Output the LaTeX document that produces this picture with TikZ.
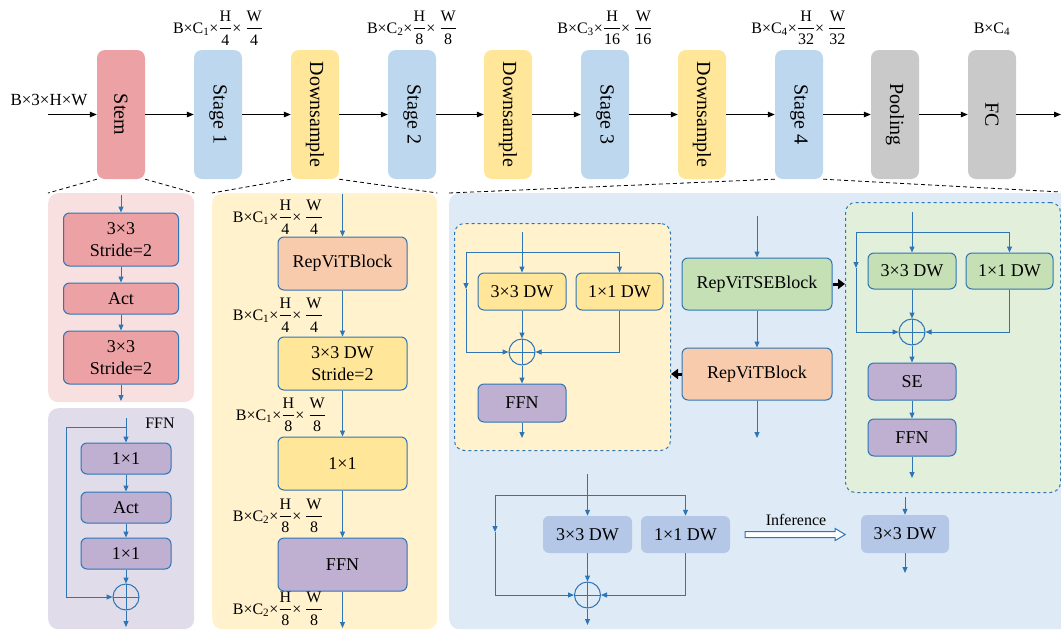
\documentclass[tikz,border=0pt]{standalone}
\usepackage{amsmath}
\usepackage{fontspec}
\setmainfont{Liberation Serif}
\usepackage{tikz}
\usetikzlibrary{positioning,arrows.meta}

\definecolor{lineblue}{RGB}{46,117,182}
\definecolor{stempink}{RGB}{236,161,165}
\definecolor{stageblue}{RGB}{189,215,238}
\definecolor{dsyellow}{RGB}{255,230,153}
\definecolor{headgray}{RGB}{201,201,201}
\definecolor{peach}{RGB}{248,203,173}
\definecolor{segreen}{RGB}{197,224,180}
\definecolor{lav}{RGB}{191,175,209}
\definecolor{dwblue}{RGB}{180,199,231}
\definecolor{stemlight}{RGB}{248,224,225}
\definecolor{ffnlight}{RGB}{225,220,234}
\definecolor{yellowlight}{RGB}{255,242,204}
\definecolor{bluelight}{RGB}{222,235,247}
\definecolor{greenlight}{RGB}{226,239,218}

\newcommand{\shapelbl}[3]{B×C\textsubscript{#1}×$\dfrac{\text{H}}{\text{#2}}$×\ $\dfrac{\text{W}}{\text{#3}}$}

\begin{document}
\begin{tikzpicture}[x=1pt, y=-1pt,
  font=\fontsize{18}{22}\selectfont,
  stagebox/.style={minimum width=48pt, minimum height=129pt, rounded corners=8pt,
    inner sep=0pt, font=\fontsize{20}{24}\selectfont},
  blk/.style={draw=lineblue, line width=1pt, rounded corners=6pt, align=center, inner sep=0pt},
  bare/.style={rounded corners=6pt, align=center, inner sep=0pt},
  panel/.style={anchor=north west, rounded corners=10pt, inner sep=0pt},
  subpanel/.style={panel, draw=lineblue, dashed, line width=1pt},
  sumc/.style={circle, draw=lineblue, line width=1pt, minimum size=26pt, inner sep=0pt,
    path picture={\draw[lineblue, line width=1pt]
      (path picture bounding box.north) -- (path picture bounding box.south)
      (path picture bounding box.west) -- (path picture bounding box.east);}},
  flow/.style={lineblue, line width=1pt, -{Triangle[length=6pt,width=5pt]}},
  trunk/.style={black, line width=1.2pt, -{Triangle[length=7pt,width=5.5pt]}},
  fat/.style={black, line width=3pt, -{Triangle[length=7pt,width=10pt]}},
  zoomln/.style={black, line width=0.8pt, dash pattern=on 4pt off 3pt},
  dimlbl/.style={font=\fontsize{16}{19}\selectfont, inner sep=0pt},
  dimtop/.style={font=\fontsize{16}{19}\selectfont, inner sep=0pt},
]
\useasboundingbox (0,0) rectangle (1061,630);

% backbone
\node[stagebox, fill=stempink] (stem) at (121,114.5) {\rotatebox{-90}{Stem}};
\node[stagebox, fill=stageblue] (st1) at (218,114.5) {\rotatebox{-90}{Stage 1}};
\node[stagebox, fill=dsyellow] (ds1) at (315,114.5) {\rotatebox{-90}{Downsample}};
\node[stagebox, fill=stageblue] (st2) at (412,114.5) {\rotatebox{-90}{Stage 2}};
\node[stagebox, fill=dsyellow] (ds2) at (508,114.5) {\rotatebox{-90}{Downsample}};
\node[stagebox, fill=stageblue] (st3) at (605,114.5) {\rotatebox{-90}{Stage 3}};
\node[stagebox, fill=dsyellow] (ds3) at (702,114.5) {\rotatebox{-90}{Downsample}};
\node[stagebox, fill=stageblue] (st4) at (799,114.5) {\rotatebox{-90}{Stage 4}};
\node[stagebox, fill=headgray] (pool) at (895,114.5) {\rotatebox{-90}{Pooling}};
\node[stagebox, fill=headgray] (fc) at (992,114.5) {\rotatebox{-90}{FC}};

\coordinate (in) at (48,114.5);
\coordinate (out) at (1061,114.5);
\node[font=\fontsize{17}{20}\selectfont] (inlbl) at (49,100) {B×3×H×W};
\draw[trunk] (in) -- (stem);
\draw[trunk] (stem) -- (st1);
\draw[trunk] (st1) -- (ds1);
\draw[trunk] (ds1) -- (st2);
\draw[trunk] (st2) -- (ds2);
\draw[trunk] (ds2) -- (st3);
\draw[trunk] (st3) -- (ds3);
\draw[trunk] (ds3) -- (st4);
\draw[trunk] (st4) -- (pool);
\draw[trunk] (pool) -- (fc);
\draw[trunk] (fc) -- (out);

\node[dimtop] (cA) at (218,28) {\shapelbl{1}{4}{4}};
\node[dimtop] (cB) at (412,28) {\shapelbl{2}{8}{8}};
\node[dimtop] (cC) at (605,28) {\shapelbl{3}{16}{16}};
\node[dimtop] (cD) at (799,28) {\shapelbl{4}{32}{32}};
\node[dimtop] (cE) at (992,29) {B×C\textsubscript{4}};

% panels
\node[panel, fill=stemlight, minimum width=146pt, minimum height=209pt] (stempanel) at (48,193) {};
\node[panel, fill=ffnlight, minimum width=146pt, minimum height=221pt] (ffnpanel) at (48,408) {};
\node[panel, fill=yellowlight, minimum width=225pt, minimum height=436pt] (dspanel) at (212,193) {};
\node[panel, fill=bluelight, minimum width=620pt, minimum height=436pt] (stpanel) at (449,193) {};
\coordinate (rim) at (1061,192);

\draw[zoomln] (stem.south west) -- (stempanel.north west);
\draw[zoomln] (stem.south east) -- (stempanel.north east);
\draw[zoomln] (ds1.south west) -- (dspanel.north west);
\draw[zoomln] (ds1.south east) -- (dspanel.north east);
\draw[zoomln] (st4.south west) -- (stpanel.north west);
\draw[zoomln] (st4.south east) -- (rim);

% stem
\node[blk, fill=stempink, minimum width=115pt, minimum height=53pt] (sconvA) at (121,239.5) {3×3\\Stride=2};
\node[blk, fill=stempink, minimum width=115pt, minimum height=31pt] (sact) at (121,298.5) {Act};
\node[blk, fill=stempink, minimum width=115pt, minimum height=53pt] (sconvB) at (121,357.5) {3×3\\Stride=2};
\coordinate (sin) at (121,195);
\coordinate (sout) at (121,401);
\draw[flow] (sin) -- (sconvA);
\draw[flow] (sconvA) -- (sact);
\draw[flow] (sact) -- (sconvB);
\draw[flow] (sconvB) -- (sout);

% ffn
\node[font=\fontsize{16}{19}\selectfont] (ffnlbl) at (160,423) {FFN};
\node[blk, fill=lav, minimum width=90pt, minimum height=31pt] (fA) at (126,458.5) {1×1};
\node[blk, fill=lav, minimum width=90pt, minimum height=31pt] (fB) at (126,507.5) {Act};
\node[blk, fill=lav, minimum width=90pt, minimum height=31pt] (fC) at (126,553.5) {1×1};
\node[sumc] (fsum) at (126,597) {};
\coordinate (fin) at (126,418);
\coordinate (fbr) at (126,427);
\coordinate (fout) at (126,627);
\draw[flow] (fin) -- (fA);
\draw[flow] (fbr) -- ++(-60,0) |- (fsum);
\draw[flow] (fA) -- (fB);
\draw[flow] (fB) -- (fC);
\draw[flow] (fC) -- (fsum);
\draw[flow] (fsum) -- (fout);

% downsample
\node[blk, fill=peach, minimum width=129pt, minimum height=53pt] (dRep) at (342.5,263.5) {RepViTBlock};
\node[blk, fill=dsyellow, minimum width=129pt, minimum height=53pt] (dDW) at (342.5,363.5) {3×3 DW\\Stride=2};
\node[blk, fill=dsyellow, minimum width=129pt, minimum height=53pt] (dPW) at (342.5,463.5) {1×1};
\node[blk, fill=lav, minimum width=129pt, minimum height=53pt] (dFFN) at (342.5,564.5) {FFN};
\coordinate (din) at (342.5,194);
\coordinate (dout) at (342.5,628);
\draw[flow] (din) -- (dRep);
\draw[flow] (dRep) -- (dDW);
\draw[flow] (dDW) -- (dPW);
\draw[flow] (dPW) -- (dFFN);
\draw[flow] (dFFN) -- (dout);
\node[dimlbl, anchor=east] (dlA) at (323,217) {\shapelbl{1}{4}{4}};
\node[dimlbl, anchor=east] (dlB) at (323,315) {\shapelbl{1}{4}{4}};
\node[dimlbl, anchor=east] (dlC) at (326,415) {\shapelbl{1}{8}{8}};
\node[dimlbl, anchor=east] (dlD) at (323,516) {\shapelbl{2}{8}{8}};
\node[dimlbl, anchor=east] (dlE) at (323,609) {\shapelbl{2}{8}{8}};

% stage 4: training block
\node[subpanel, fill=yellowlight, minimum width=216pt, minimum height=227pt] (ypanel) at (454,223) {};
\node[blk, fill=dsyellow, minimum width=88pt, minimum height=37pt] (yDW) at (522,291.5) {3×3 DW};
\node[blk, fill=dsyellow, minimum width=87pt, minimum height=37pt] (yPW) at (619.5,291.5) {1×1 DW};
\node[sumc] (ysum) at (522,352) {};
\node[blk, fill=lav, minimum width=88pt, minimum height=38pt] (yFFN) at (522,403) {FFN};
\coordinate (yin) at (522,232);
\coordinate (ybr) at (522,252);
\coordinate (yl) at (466,289);
\coordinate (yout) at (522,438);
\draw[flow] (yin) -- (yDW);
\draw[flow] (ybr) -| (yPW);
\draw[flow] (ybr) -| (yl);
\draw[flow] (yl) |- (ysum);
\draw[flow] (yPW) |- (ysum);
\draw[flow] (yDW) -- (ysum);
\draw[flow] (ysum) -- (yFFN);
\draw[flow] (yFFN) -- (yout);

\node[subpanel, fill=greenlight, minimum width=215pt, minimum height=290pt] (gpanel) at (845,202) {};
\node[blk, fill=segreen, minimum width=88pt, minimum height=36pt] (gDW) at (912,271) {3×3 DW};
\node[blk, fill=segreen, minimum width=87pt, minimum height=36pt] (gPW) at (1009.5,271) {1×1 DW};
\node[sumc] (gsum) at (912,332) {};
\node[blk, fill=lav, minimum width=88pt, minimum height=37pt] (gSE) at (912,381.5) {SE};
\node[blk, fill=lav, minimum width=88pt, minimum height=37pt] (gFFN) at (912,437.5) {FFN};
\coordinate (gin) at (912,212);
\coordinate (gbr) at (912,232);
\coordinate (gl) at (856,268);
\coordinate (gout) at (912,478);
\draw[flow] (gin) -- (gDW);
\draw[flow] (gbr) -| (gPW);
\draw[flow] (gbr) -| (gl);
\draw[flow] (gl) |- (gsum);
\draw[flow] (gPW) |- (gsum);
\draw[flow] (gDW) -- (gsum);
\draw[flow] (gsum) -- (gSE);
\draw[flow] (gSE) -- (gFFN);
\draw[flow] (gFFN) -- (gout);

\node[blk, fill=segreen, minimum width=150pt, minimum height=52pt] (mSE) at (757,284) {RepViTSEBlock};
\node[blk, fill=peach, minimum width=150pt, minimum height=52pt] (mRep) at (757,374) {RepViTBlock};
\coordinate (min) at (757,216);
\coordinate (mout) at (757,438);
\draw[flow] (min) -- (mSE);
\draw[flow] (mSE) -- (mRep);
\draw[flow] (mRep) -- (mout);
\draw[fat] (mRep.west) -- (mRep.west -| ypanel.east);
\draw[fat] (mSE.east) -- (mSE.east -| gpanel.west);

% reparameterization
\node[bare, fill=dwblue, minimum width=89pt, minimum height=37pt] (bDW) at (587.5,534.5) {3×3 DW};
\node[bare, fill=dwblue, minimum width=89pt, minimum height=37pt] (bPW) at (685.5,534.5) {1×1 DW};
\node[sumc] (bsum) at (587.5,595) {};
\coordinate (bin) at (587.5,474);
\coordinate (bbr) at (587.5,495);
\coordinate (bl) at (495,532);
\coordinate (bout) at (587.5,625);
\draw[flow] (bin) -- (bDW);
\draw[flow] (bbr) -| (bPW);
\draw[flow] (bbr) -| (bl);
\draw[flow] (bl) |- (bsum);
\draw[flow] (bPW) |- (bsum);
\draw[flow] (bDW) -- (bsum);
\draw[flow] (bsum) -- (bout);

\node[bare, fill=dwblue, minimum width=88pt, minimum height=38pt] (rDW) at (905,534) {3×3 DW};
\coordinate (rin) at (905,497);
\coordinate (rout) at (905,573);
\draw[flow] (rin) -- (rDW);
\draw[flow] (rDW) -- (rout);

\coordinate (infs) at ([xshift=15pt]bPW.east);
\draw[lineblue, fill=white, line width=1pt] (infs) ++(0,-3) -- ++(90,0) -- ++(0,-3)
  -- ++(10,6) -- ++(-10,6) -- ++(0,-3) -- ++(-90,0) -- cycle;
\node[font=\fontsize{16}{19}\selectfont] (inflbl) at (796,520) {Inference};

\end{tikzpicture}
\end{document}
